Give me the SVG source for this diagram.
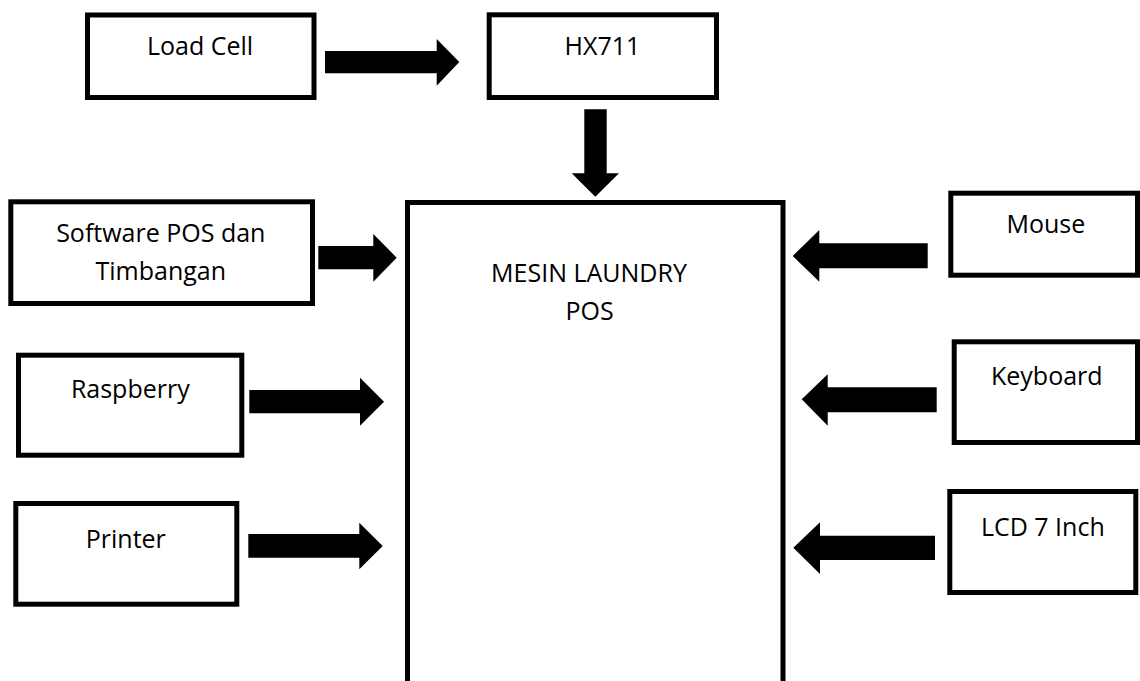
<svg xmlns="http://www.w3.org/2000/svg" width="1140" height="681" viewBox="0 0 1140 681">
<style>
.box{fill:#fff;stroke:#000;stroke-width:5}
.lbl{font-family:"Open Sans","Noto Sans",sans-serif;font-size:25px;fill:#000;text-anchor:middle}
.arr{fill:#000;stroke:none}
</style>
<rect width="1140" height="681" fill="#fff"/>
<g id="main">
<rect class="box" x="407.5" y="202.5" width="375.5" height="520"/>
<text class="lbl" x="589" y="281.5">MESIN LAUNDRY</text>
<text class="lbl" x="589.5" y="320">POS</text>
</g>
<g id="loadcell">
<rect class="box" x="87.5" y="15" width="226.5" height="82.5"/>
<text class="lbl" x="200" y="55">Load Cell</text>
</g>
<g id="hx711">
<rect class="box" x="489.2" y="14.8" width="227.3" height="82.7"/>
<text class="lbl" x="602.5" y="55">HX711</text>
</g>
<g id="software">
<rect class="box" x="10.8" y="201.8" width="301.7" height="101.7"/>
<text class="lbl" x="160.8" y="241.7">Software POS dan</text>
<text class="lbl" x="160.8" y="280">Timbangan</text>
</g>
<g id="raspberry">
<rect class="box" x="18.5" y="355.2" width="223.3" height="100"/>
<text class="lbl" x="130.3" y="398.3">Raspberry</text>
</g>
<g id="printer">
<rect class="box" x="15.8" y="503.5" width="221" height="100.7"/>
<text class="lbl" x="125.8" y="548.3">Printer</text>
</g>
<g id="mouse">
<rect class="box" x="950.8" y="193.2" width="186.7" height="82"/>
<text class="lbl" x="1045.8" y="232.7">Mouse</text>
</g>
<g id="keyboard">
<rect class="box" x="954.2" y="341.8" width="183.3" height="100.7"/>
<text class="lbl" x="1046.8" y="385">Keyboard</text>
</g>
<g id="lcd">
<rect class="box" x="949.8" y="491.5" width="186" height="101"/>
<text class="lbl" x="1042.8" y="536">LCD 7 Inch</text>
</g>
<g id="connectors">
<polygon class="arr" points="325,51 436.7,51 436.7,39 459.3,62 436.7,85.7 436.7,73.3 325,73.3"/>
<polygon class="arr" points="584.3,109.3 606.7,109.3 606.7,173.3 619,173.3 595.3,196.7 571.7,173.3 584.3,173.3"/>
<polygon class="arr" points="318.3,246 373.3,246 373.3,234 396.7,257.7 373.3,281.7 373.3,269.3 318.3,269.3"/>
<polygon class="arr" points="249.3,390 360,390 360,377.7 384,401.7 360,425.7 360,413.3 249.3,413.3"/>
<polygon class="arr" points="248.3,534 359.3,534 359.3,522.7 382.7,546 359.3,569.3 359.3,557.7 248.3,557.7"/>
<polygon class="arr" points="927.7,243.3 819.3,243.3 819.3,230 792.7,256 819.3,281.7 819.3,268.3 927.7,268.3"/>
<polygon class="arr" points="936.7,387.3 827.7,387.3 827.7,374.3 801.7,399.3 827.7,425.7 827.7,412.3 936.7,412.3"/>
<polygon class="arr" points="935,535.7 820,535.7 820,522.3 793.3,547.7 820,574 820,560 935,560"/>
</g>
</svg>
